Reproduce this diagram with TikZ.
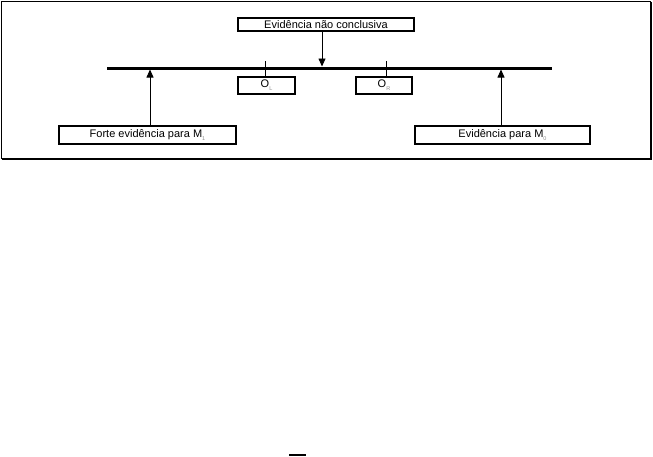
\documentclass[tikz,border=0pt]{standalone}
\usepackage{fontspec}
\setmainfont{Liberation Sans}
\usetikzlibrary{arrows.meta}
\newcommand\mysub[1]{\raisebox{-0.5ex}{\fontsize{5.5}{6}\selectfont\color{black!45}#1}}
\begin{document}
\begin{tikzpicture}[x=1pt,y=-1pt,
  lbl/.style={draw,line width=1.8pt,inner sep=0pt,font=\fontsize{11}{13}\selectfont},
  arr/.style={line width=0.8pt,-{Triangle[length=8pt,width=7pt]}},
  tick/.style={line width=0.8pt}]
\useasboundingbox (0,0) rectangle (653,456);
% frame
\draw[line width=1.2pt] (1.5,158.5) -- (1.5,1.5) -- (650.5,1.5);
\draw[line width=2pt] (650.5,1.5) -- (650.5,158.5) -- (1.5,158.5);
% boxes
\node[lbl,minimum width=176.5pt,minimum height=13.5pt] (top) at (326,24.5) {Evidência não conclusiva};
\node[lbl,minimum width=57.5pt,minimum height=17.5pt] (ol) at (266.5,85.5) {O\mysub{L}};
\node[lbl,minimum width=56.5pt,minimum height=17.5pt] (or) at (384,85.5) {O\mysub{R}};
\node[lbl,minimum width=177.5pt,minimum height=18.5pt] (m1) at (147.5,135) {Forte evidência para M\mysub{1}};
\node[lbl,minimum width=175.5pt,minimum height=18.5pt] (m0) at (502.5,135) {Evidência para M\mysub{0}};
% main line
\coordinate (lineL) at (107,68);
\coordinate (lineR) at (552,68);
\draw[line width=3pt] (lineL) -- (lineR);
% arrows
\coordinate (tipT) at (322,66.5);
\coordinate (tipL) at (150,69.5);
\coordinate (tipR) at (501,69.5);
\draw[arr] (top.south -| tipT) -- (tipT);
\draw[arr] (m1.north -| tipL) -- (tipL);
\draw[arr] (m0.north -| tipR) -- (tipR);
% ticks
\coordinate (tl) at (265,61);
\coordinate (tr) at (386,61);
\draw[tick] (tl) -- (ol.north -| tl);
\draw[tick] (tr) -- (or.north -| tr);
% fragment at bottom
\coordinate (fa) at (289,455);
\coordinate (fb) at (306,455);
\draw[line width=2pt] (fa) -- (fb);
\end{tikzpicture}
\end{document}
